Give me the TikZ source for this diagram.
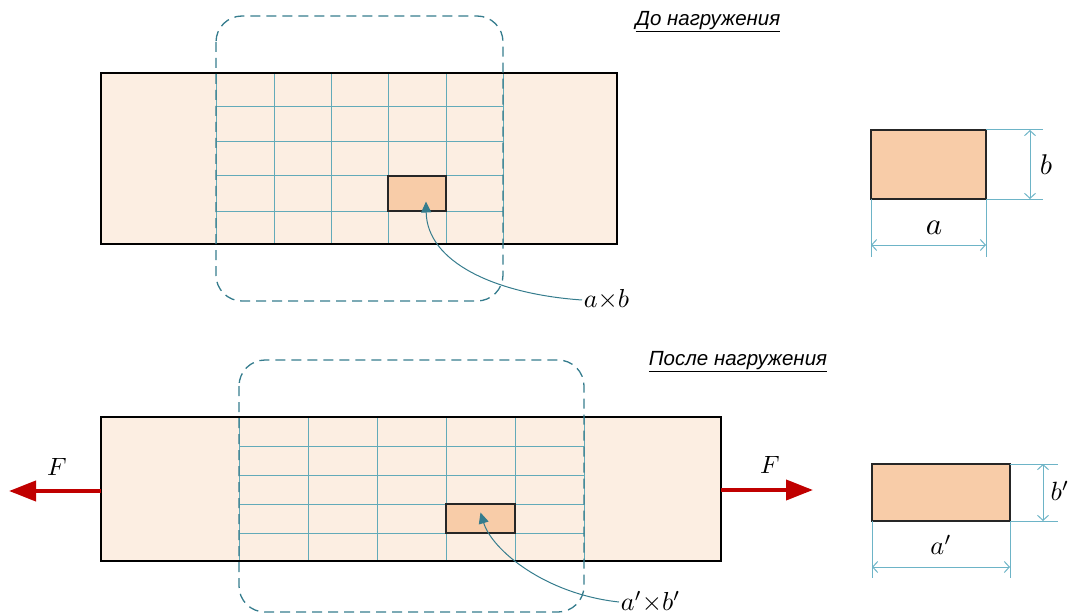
\documentclass[tikz,border=0pt]{standalone}
\usepackage{fontspec}
\newfontfamily\titlefont{Liberation Sans}
\usetikzlibrary{arrows.meta}
\definecolor{BarFill}{HTML}{FCEEE2}
\definecolor{CellFill}{HTML}{F8CCA8}
\definecolor{GridTeal}{HTML}{62AAB9}
\definecolor{ZoneTeal}{HTML}{357C8D}
\definecolor{DimBlue}{HTML}{6DB4C7}
\definecolor{ForceRed}{HTML}{C00000}
\tikzset{
  barbox/.style={fill=BarFill,inner sep=0pt,outer sep=0pt,anchor=north west},
  barline/.style={draw=black,line width=2.5pt},
  gridline/.style={draw=GridTeal,line width=1pt},
  zone/.style={draw=ZoneTeal,line width=1.3pt,dash pattern=on 10pt off 6pt,rounded corners=26pt},
  cellbox/.style={draw=black!85,line width=1.1pt,fill=CellFill,inner sep=0pt,outer sep=0pt},
  callout/.style={draw=ZoneTeal,line width=1pt,-{Triangle[length=11pt,width=10pt]}},
  force/.style={draw=ForceRed,line width=4pt,-{Triangle[length=27pt,width=20pt]}},
  dimline/.style={draw=DimBlue,line width=1pt},
  dimarrow/.style={dimline,{Straight Barb[length=5pt,width=11pt]}-{Straight Barb[length=5pt,width=11pt]}},
  title/.style={font=\titlefont\itshape\fontsize{20.5}{24}\selectfont},
  mlabel/.style={scale=2.6,inner sep=0.5pt},
  dlabel/.style={scale=3.1,inner sep=0.5pt},
  flabel/.style={scale=2.5,inner sep=0.5pt}
}
\begin{document}
\begin{tikzpicture}[x=1pt,y=-1pt]
  \useasboundingbox (0,0) rectangle (1074,615);
  % before loading
  \node[title] (title1) at (708,22) {\underline{До нагружения}};
  \node[barbox,minimum width=516pt,minimum height=171pt] (bar1) at (101,73) {};
  \foreach \x in {216,274,331,388,446,503} \draw[gridline] (\x,73) -- (\x,244);
  \foreach \y in {107,142,176,211} \draw[gridline] (216,\y) -- (503,\y);
  \draw[barline] (bar1.north west) rectangle (bar1.south east);
  \node[cellbox,minimum width=58pt,minimum height=35pt] (cell1) at (417,193.5) {};
  \draw[zone] (216,16) rectangle (503,301);
  \node[mlabel,anchor=west] (ab) at (582,300) {$a{\times}b$};
  \draw[callout] (ab.west) .. controls (495,294) and (427,262) .. ([xshift=9pt,yshift=-8pt]cell1.center);
  % sample element before loading
  \node[cellbox,minimum width=115pt,minimum height=69pt,anchor=north west] (elem1) at (871,130) {};
  \coordinate (b1top) at (1043,130); \coordinate (b1bot) at (1043,199);
  \coordinate (a1left) at (871,257); \coordinate (a1right) at (986,257);
  \draw[dimline] (elem1.north east) -- (b1top);
  \draw[dimline] (elem1.south east) -- (b1bot);
  \draw[dimline] (elem1.south west) -- (a1left);
  \draw[dimline] (elem1.south east) -- (a1right);
  \draw[dimarrow] (1030,130) -- (1030,199);
  \draw[dimarrow] (871,245) -- (986,245);
  \node[dlabel,scale=0.92] (blab1) at (1046,165) {$b$};
  \node[dlabel] (alab1) at (934,228) {$a$};
  % after loading
  \node[title] (title2) at (738,362) {\underline{После нагружения}};
  \node[barbox,minimum width=620pt,minimum height=144pt] (bar2) at (101,417) {};
  \foreach \x in {239,308,377,446,515,584} \draw[gridline] (\x,417) -- (\x,561);
  \foreach \y in {446,475,504,533} \draw[gridline] (239,\y) -- (584,\y);
  \draw[barline] (bar2.north west) rectangle (bar2.south east);
  \node[cellbox,minimum width=69pt,minimum height=29pt] (cell2) at (480.5,518.5) {};
  \draw[zone] (239,360) rectangle (584,612);
  \node[mlabel,anchor=west] (abp) at (619,602) {$a'{\times}b'$};
  \draw[callout] (abp.west) .. controls (545,594) and (492,550) .. ([xshift=0pt,yshift=6pt]cell2.center);
  % forces
  \coordinate (fleft) at (9,491); \coordinate (fright) at (813,490);
  \draw[force] ([yshift=-2pt]bar2.west) -- (fleft);
  \draw[force] ([yshift=-1pt]bar2.east) -- (fright);
  \node[flabel] (F1) at (57,467) {$F$};
  \node[flabel] (F2) at (770,465) {$F$};
  % sample element after loading
  \node[cellbox,minimum width=138pt,minimum height=57pt,anchor=north west] (elem2) at (872,464) {};
  \coordinate (b2top) at (1058,464); \coordinate (b2bot) at (1058,521);
  \coordinate (a2left) at (872,578); \coordinate (a2right) at (1010,578);
  \draw[dimline] (elem2.north east) -- (b2top);
  \draw[dimline] (elem2.south east) -- (b2bot);
  \draw[dimline] (elem2.south west) -- (a2left);
  \draw[dimline] (elem2.south east) -- (a2right);
  \draw[dimarrow] (1043,464) -- (1043,521);
  \draw[dimarrow] (872,567) -- (1010,567);
  \node[dlabel,scale=0.85] (blab2) at (1060,491) {$b'$};
  \node[dlabel,scale=0.85] (alab2) at (941,545) {$a'$};
\end{tikzpicture}
\end{document}
